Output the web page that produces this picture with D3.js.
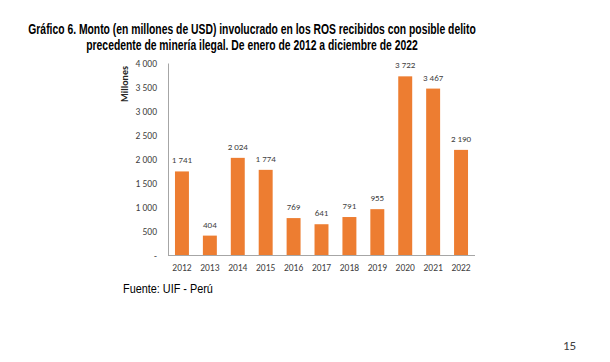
<!DOCTYPE html>
<html>
<head>
<meta charset="utf-8">
<script src="https://cdn.jsdelivr.net/npm/d3@7.9.0/dist/d3.min.js"></script>
<style>
  html, body { margin: 0; padding: 0; background: #fff; }
  svg { display: block; }
  .title { font-family: 'Liberation Sans Narrow', 'Arial Narrow', 'Liberation Sans', sans-serif; font-weight: bold; font-size: 15px; fill: #000; }
  .tick text, .val { font-family: Calibri, Carlito, Lato, sans-serif; fill: #404040; }
</style>
</head>
<body>
<svg id="chart" width="610" height="362"></svg>
<script>
const years = ['2012', '2013', '2014', '2015', '2016', '2017', '2018', '2019', '2020', '2021', '2022'];
const montos = [1741, 404, 2024, 1774, 769, 641, 791, 955, 3722, 3467, 2190];
const yTicks = [0, 500, 1000, 1500, 2000, 2500, 3000, 3500, 4000];
const titleLines = [
  'Gráfico 6. Monto (en millones de USD) involucrado en los ROS recibidos con posible delito',
  'precedente de minería ilegal. De enero de 2012 a diciembre de 2022'
];
const titleWidths = [448, 332];

const svg = d3.select('#chart');
const plotLeft = 168, plotRight = 475, plotTop = 63, plotBottom = 255;

const fmt = d3.formatLocale({ decimal: ',', thousands: ' ', grouping: [3], currency: ['', ''] }).format(',d');

const x = d3.scaleBand().domain(years).range([plotLeft, plotRight]).paddingInner(0.5).paddingOuter(0.25);
const y = d3.scaleLinear().domain([0, 4000]).range([plotBottom, plotTop]);

// estrecha un texto horizontalmente hasta el ancho deseado (no hay fuente Narrow)
function narrow(sel, cx, cy, width) {
  sel.attr('x', 0).attr('y', 0);
  const w = sel.node().getComputedTextLength();
  sel.attr('transform', `translate(${cx},${cy}) scale(${width / w},1)`);
}

// titulo
titleLines.forEach((line, i) => {
  const t = svg.append('text')
    .attr('class', 'title')
    .attr('text-anchor', 'middle')
    .text(line);
  narrow(t, 252, 34 + i * 16, titleWidths[i]);
});

// eje y
const yAxis = svg.append('g')
  .attr('transform', `translate(${plotLeft},0)`)
  .call(d3.axisLeft(y).tickValues(yTicks).tickSize(0).tickPadding(11)
    .tickFormat((d) => (d === 0 ? '-' : fmt(d))));
yAxis.select('.domain').attr('stroke', '#a6a6a6').attr('stroke-width', 1);
yAxis.selectAll('.tick text').attr('font-size', 9.5);

svg.append('text')
  .attr('transform', 'translate(128,84) rotate(-90)')
  .attr('text-anchor', 'middle')
  .attr('font-family', 'Calibri, Carlito, Lato, sans-serif')
  .attr('font-size', 10)
  .attr('font-weight', 'bold')
  .attr('fill', '#262626')
  .text('Millones');

// barras
svg.selectAll('rect.bar')
  .data(montos)
  .join('rect')
  .attr('class', 'bar')
  .attr('x', (d, i) => x(years[i]))
  .attr('width', x.bandwidth())
  .attr('y', (d) => y(d))
  .attr('height', (d) => y(0) - y(d))
  .attr('fill', '#ed7d31');

svg.selectAll('text.val')
  .data(montos)
  .join('text')
  .attr('class', 'val')
  .attr('x', (d, i) => x(years[i]) + x.bandwidth() / 2)
  .attr('y', (d) => y(d) - 8)
  .attr('text-anchor', 'middle')
  .attr('font-size', 9)
  .text((d) => fmt(d));

// eje x
const xAxis = svg.append('g')
  .attr('transform', `translate(0,${plotBottom})`)
  .call(d3.axisBottom(x).tickSize(0).tickPadding(9));
xAxis.select('.domain').attr('stroke', '#a6a6a6').attr('stroke-width', 1).attr('d', `M${plotLeft},0.5H${plotRight}`);
xAxis.selectAll('.tick text').attr('font-size', 9.5);

const fuente = svg.append('text')
  .attr('font-family', "'Liberation Sans Narrow', 'Arial Narrow', 'Liberation Sans', sans-serif")
  .attr('font-size', 12)
  .attr('fill', '#000')
  .text('Fuente: UIF - Perú');
narrow(fuente, 123, 293, 90);

svg.append('text')
  .attr('x', 563)
  .attr('y', 350)
  .attr('font-family', 'Calibri, Carlito, Lato, sans-serif')
  .attr('font-size', 13)
  .attr('fill', '#404040')
  .text('15');
</script>
</body>
</html>
